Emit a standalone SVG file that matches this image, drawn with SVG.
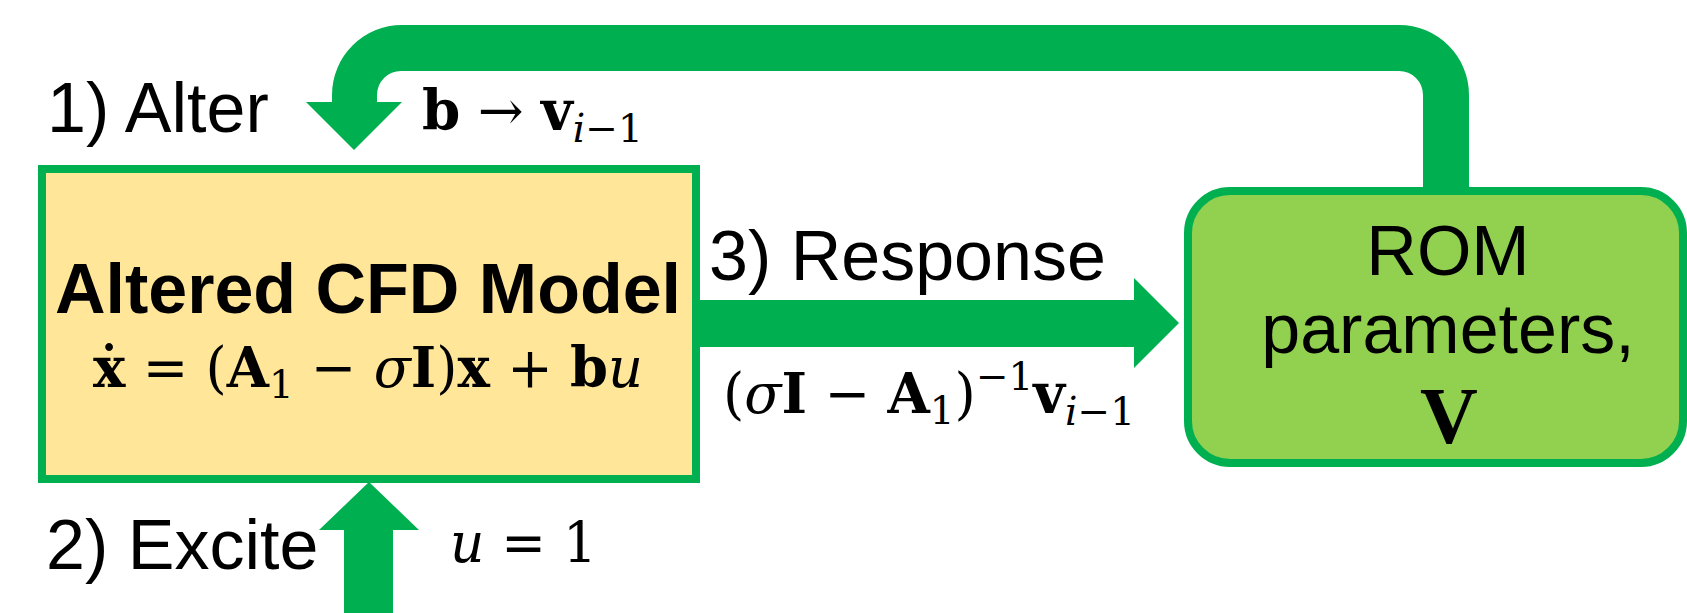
<svg xmlns="http://www.w3.org/2000/svg" width="1687" height="613" viewBox="0 0 1687 613">
  <style>
    .label { font-family: "Liberation Sans", Arial, sans-serif; font-size: 70px; fill: #000; }
    .title { font-family: "Liberation Sans", Arial, sans-serif; font-size: 70px; font-weight: bold; fill: #000; }
    .math { font-family: "DejaVu Serif", "Liberation Serif", serif; font-size: 56px; fill: #000; }
    .b { font-weight: bold; }
    .i { font-style: italic; }
    .sm { font-size: 40px; }
    .arrow { fill: #00B050; }
  </style>

  <!-- connectors: thick block arrows -->
  <g id="connectors">
    <!-- feedback loop: ROM parameters back to the CFD model input vector -->
    <path id="feedback" class="arrow" d="M1469,190 L1469,95 A70,70 0 0 0 1399,25 L402,25 A70,70 0 0 0 332,95 L332,102 L306,102 L354,150 L402,102 L377,102 L377,95 A24,24 0 0 1 401,71 L1399,71 A24,24 0 0 1 1423,95 L1423,190 Z"/>
    <!-- response: CFD model to ROM parameters -->
    <path id="response" class="arrow" d="M700,300 L1134,300 L1134,278 L1179,323 L1134,368 L1134,347 L700,347 Z"/>
    <!-- excitation input from below -->
    <path id="excite" class="arrow" d="M344,613 L344,530 L319,530 L369,482 L419,530 L393,530 L393,613 Z"/>
  </g>

  <!-- step labels -->
  <g id="labels">
    <text class="label" x="47" y="132">1) Alter</text>
    <text class="math" x="422" y="130" textLength="221" lengthAdjust="spacingAndGlyphs"><tspan class="b">b</tspan> → <tspan class="b">v</tspan><tspan class="sm i" dy="12">i</tspan><tspan class="sm">−1</tspan></text>
    <text class="label" x="709" y="280">3) Response</text>
    <text class="math" x="723" y="413" textLength="412" lengthAdjust="spacingAndGlyphs">(<tspan class="i">σ</tspan><tspan class="b">I</tspan> − <tspan class="b">A</tspan><tspan class="sm" dy="11">1</tspan><tspan dy="-11">)</tspan><tspan class="sm" dy="-23">−1</tspan><tspan class="b" dy="23">v</tspan><tspan class="sm i" dy="12">i</tspan><tspan class="sm">−1</tspan></text>
    <text class="label" x="46" y="569">2) Excite</text>
    <text class="math" x="450" y="562" textLength="147" lengthAdjust="spacingAndGlyphs"><tspan class="i">u</tspan> = 1</text>
  </g>

  <!-- altered CFD model block -->
  <g id="cfd-model">
    <rect x="42" y="169" width="654" height="310" fill="#FFE699" stroke="#00B050" stroke-width="8"/>
    <text class="title" x="368" y="313" text-anchor="middle">Altered CFD Model</text>
    <text class="math" x="368" y="387" text-anchor="middle" textLength="550" lengthAdjust="spacingAndGlyphs"><tspan class="b">ẋ</tspan> = (<tspan class="b">A</tspan><tspan class="sm" dy="11">1</tspan><tspan dy="-11"> − </tspan><tspan class="i">σ</tspan><tspan class="b">I</tspan>)<tspan class="b">x</tspan> + <tspan class="b">b</tspan><tspan class="i">u</tspan></text>
  </g>

  <!-- reduced-order model parameters block -->
  <g id="rom-parameters">
    <rect x="1188" y="191" width="495" height="272" rx="42" ry="42" fill="#92D050" stroke="#00B050" stroke-width="8"/>
    <text class="label" x="1448" y="275" text-anchor="middle" font-size="68">ROM</text>
    <text class="label" x="1448" y="353" text-anchor="middle" font-size="68">parameters,</text>
    <text class="b" x="1449" y="443" text-anchor="middle" font-family="Liberation Serif, serif" font-size="80">V</text>
  </g>
</svg>
